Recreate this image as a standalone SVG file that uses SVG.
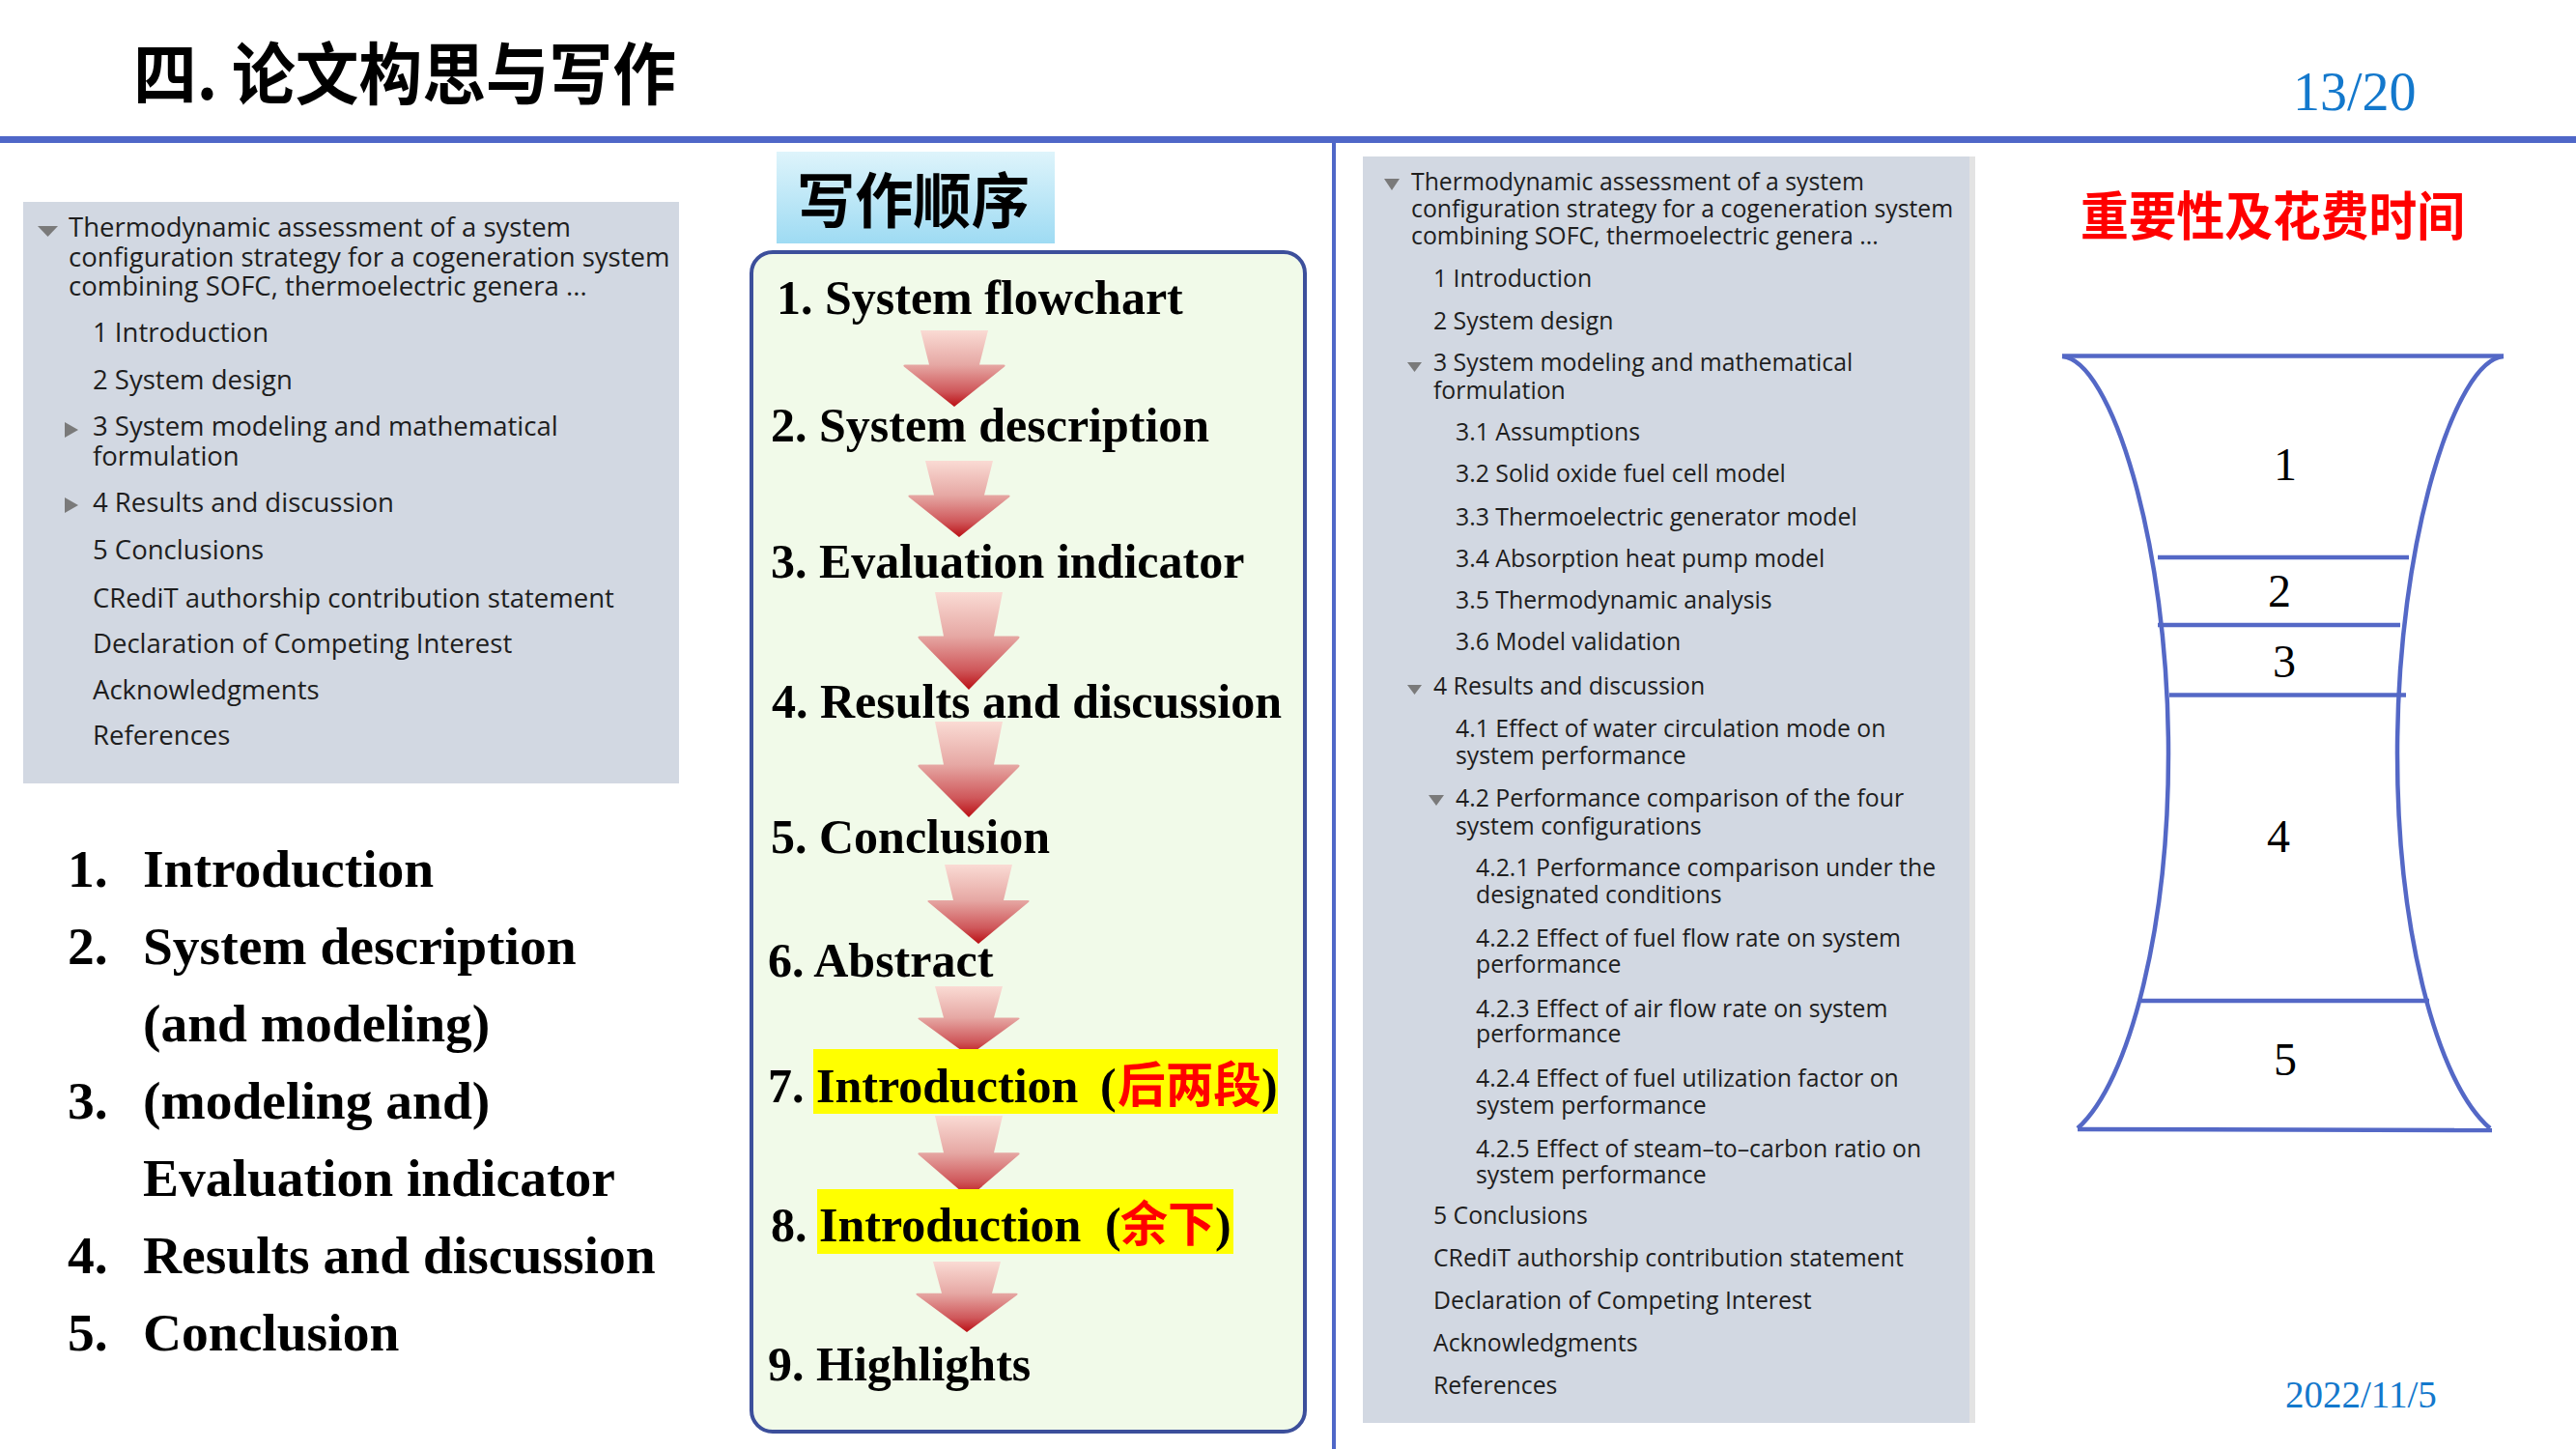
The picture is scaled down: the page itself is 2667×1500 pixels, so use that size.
<svg xmlns="http://www.w3.org/2000/svg" width="2667" height="1500" viewBox="0 0 2667 1500">
  <style>
    .cjk { font-family: "Noto Sans CJK SC", "Noto Sans", sans-serif; font-weight: 700; }
    .step { font-family: "Liberation Serif", "Times New Roman", serif; font-weight: 700; font-size: 50px; fill: #000; }
    .list { font-family: "Liberation Serif", "Times New Roman", serif; font-weight: 700; font-size: 55.5px; fill: #000; }
    .toc { font-family: "Open Sans", "DejaVu Sans", sans-serif; fill: #1e1e1e; }
    .tocL { font-size: 27.5px; }
    .tocR { font-size: 24.8px; }
    .tri { fill: #7a7a7a; }
    .rule { stroke: #4f67c8; fill: none; }
    .glass { stroke: #5468c6; fill: none; stroke-width: 4.5; stroke-linecap: butt; }
    .num { font-family: "Liberation Serif", "Times New Roman", serif; font-size: 48px; fill: #000; text-anchor: middle; }
    .meta { font-family: "Liberation Serif", "Times New Roman", serif; fill: #1378cc; }
    .hl { fill: #ffff00; }
    .red { fill: #ff0000; }
  </style>
  <defs>
    <linearGradient id="arrowFill" x1="0" y1="0" x2="0" y2="1">
      <stop offset="0" stop-color="#fadbd4"/>
      <stop offset="0.45" stop-color="#e6a8a4"/>
      <stop offset="0.8" stop-color="#cf575a"/>
      <stop offset="1" stop-color="#ba0f14"/>
    </linearGradient>
    <linearGradient id="headFill" x1="0" y1="0" x2="0" y2="1">
      <stop offset="0" stop-color="#def4fb"/>
      <stop offset="1" stop-color="#9edbf3"/>
    </linearGradient>
    <!-- block arrow, 106 wide and 100 tall, tip at (0,100) -->
    <path id="downArrow" d="M -35 0 L 35 0 L 26 45 L 51 45 Q 54 45.5 51.5 48 L 0 100 L -51.5 48 Q -54 45.5 -51 45 L -26 45 Z" fill="url(#arrowFill)"/>
  </defs>

  <rect x="0" y="0" width="2667" height="1500" fill="#ffffff"/>

  <!-- header -->
  <g id="header">
    <text class="cjk" x="138" y="103" font-size="70" textLength="562" lengthAdjust="spacingAndGlyphs" fill="#000">四. 论文构思与写作</text>
    <text class="meta" x="2374" y="114" font-size="56">13/20</text>
    <line class="rule" x1="0" y1="144.5" x2="2667" y2="144.5" stroke-width="7"/>
    <line class="rule" x1="1381" y1="148" x2="1381" y2="1500" stroke-width="4"/>
  </g>

  <!-- left: collapsed outline -->
  <g id="outline-short">
    <rect x="24" y="209" width="679" height="602" fill="#d2d8e2"/>
    <polygon class="tri" points="39,234 60,234 49.5,245"/>
    <polygon class="tri" points="67,437 67,453 81,445"/>
    <polygon class="tri" points="67,515 67,531 81,523"/>
    <g class="toc tocL">
      <text x="71" y="245">Thermodynamic assessment of a system</text>
      <text x="71" y="276">configuration strategy for a cogeneration system</text>
      <text x="71" y="306">combining SOFC, thermoelectric genera ...</text>
      <text x="96" y="354">1 Introduction</text>
      <text x="96" y="403">2 System design</text>
      <text x="96" y="451">3 System modeling and mathematical</text>
      <text x="96" y="482">formulation</text>
      <text x="96" y="530">4 Results and discussion</text>
      <text x="96" y="579">5 Conclusions</text>
      <text x="96" y="629">CRediT authorship contribution statement</text>
      <text x="96" y="676">Declaration of Competing Interest</text>
      <text x="96" y="724">Acknowledgments</text>
      <text x="96" y="771">References</text>
    </g>
  </g>

  <!-- left: paper structure list -->
  <g id="structure-list" class="list">
    <text x="70" y="918">1.</text><text x="148" y="918">Introduction</text>
    <text x="70" y="998">2.</text><text x="148" y="998">System description</text>
    <text x="148" y="1078">(and modeling)</text>
    <text x="70" y="1158">3.</text><text x="148" y="1158">(modeling and)</text>
    <text x="148" y="1238">Evaluation indicator</text>
    <text x="70" y="1318">4.</text><text x="148" y="1318">Results and discussion</text>
    <text x="70" y="1398">5.</text><text x="148" y="1398">Conclusion</text>
  </g>

  <!-- middle: writing order -->
  <g id="order-heading">
    <rect x="804" y="157" width="288" height="95" fill="url(#headFill)"/>
    <text class="cjk" x="825" y="231" font-size="62" textLength="241" lengthAdjust="spacingAndGlyphs" fill="#000">写作顺序</text>
  </g>
  <g id="order-frame">
    <rect x="778" y="261" width="573" height="1221" rx="22" ry="22" fill="#f1fae9" stroke="#3c4f9b" stroke-width="4"/>
  </g>

  <g id="connectors">
    <use href="#downArrow" transform="translate(988,342) scale(1,0.79)"/>
    <use href="#downArrow" transform="translate(993,477) scale(1,0.79)"/>
    <use href="#downArrow" transform="translate(1003,613) scale(1,1.01)"/>
    <use href="#downArrow" transform="translate(1003,747) scale(1,0.99)"/>
    <use href="#downArrow" transform="translate(1013,895) scale(1,0.82)"/>
    <use href="#downArrow" transform="translate(1003,1021) scale(1,0.72)"/>
    <use href="#downArrow" transform="translate(1003,1155) scale(1,0.85)"/>
    <use href="#downArrow" transform="translate(1001,1306) scale(1,0.73)"/>
  </g>

  <g id="step-1" class="step"><text x="804" y="325">1. System flowchart</text></g>
  <g id="step-2" class="step"><text x="798" y="457">2. System description</text></g>
  <g id="step-3" class="step"><text x="798" y="598">3. Evaluation indicator</text></g>
  <g id="step-4" class="step"><text x="799" y="743">4. Results and discussion</text></g>
  <g id="step-5" class="step"><text x="798" y="883">5. Conclusion</text></g>
  <g id="step-6" class="step"><text x="795" y="1011">6. Abstract</text></g>
  <g id="step-7">
    <rect class="hl" x="842" y="1086" width="481" height="67"/>
    <text class="step" x="795" y="1141">7.</text>
    <text class="step" x="845" y="1141">Introduction</text>
    <text class="step" x="1139" y="1141">(</text>
    <text class="cjk red" x="1157" y="1141" font-size="50" textLength="149" lengthAdjust="spacingAndGlyphs">后两段</text>
    <text class="step" x="1306" y="1141">)</text>
  </g>
  <g id="step-8">
    <rect class="hl" x="846" y="1231" width="431" height="67"/>
    <text class="step" x="798" y="1285">8.</text>
    <text class="step" x="848" y="1285">Introduction</text>
    <text class="step" x="1144" y="1285">(</text>
    <text class="cjk red" x="1160" y="1285" font-size="50" textLength="98" lengthAdjust="spacingAndGlyphs">余下</text>
    <text class="step" x="1258" y="1285">)</text>
  </g>
  <g id="step-9" class="step"><text x="795" y="1429">9. Highlights</text></g>

  <!-- right: expanded outline -->
  <g id="outline-full">
    <rect x="1411" y="162" width="628" height="1311" fill="#d2d8e2"/>
    <rect x="2039" y="162" width="6" height="1311" fill="#e3e3e3"/>
    <polygon class="tri" points="1433,185 1449,185 1441,197"/>
    <polygon class="tri" points="1457,375 1472,375 1464.5,385"/>
    <polygon class="tri" points="1457,709 1472,709 1464.5,719"/>
    <polygon class="tri" points="1479,823 1495,823 1487,834"/>
    <g class="toc tocR">
      <text x="1461" y="197">Thermodynamic assessment of a system</text>
      <text x="1461" y="225">configuration strategy for a cogeneration system</text>
      <text x="1461" y="253">combining SOFC, thermoelectric genera ...</text>
      <text x="1484" y="297">1 Introduction</text>
      <text x="1484" y="341">2 System design</text>
      <text x="1484" y="384">3 System modeling and mathematical</text>
      <text x="1484" y="413">formulation</text>
      <text x="1507" y="456">3.1 Assumptions</text>
      <text x="1507" y="499">3.2 Solid oxide fuel cell model</text>
      <text x="1507" y="544">3.3 Thermoelectric generator model</text>
      <text x="1507" y="587">3.4 Absorption heat pump model</text>
      <text x="1507" y="630">3.5 Thermodynamic analysis</text>
      <text x="1507" y="673">3.6 Model validation</text>
      <text x="1484" y="719">4 Results and discussion</text>
      <text x="1507" y="763">4.1 Effect of water circulation mode on</text>
      <text x="1507" y="791">system performance</text>
      <text x="1507" y="835">4.2 Performance comparison of the four</text>
      <text x="1507" y="864">system configurations</text>
      <text x="1528" y="907">4.2.1 Performance comparison under the</text>
      <text x="1528" y="935">designated conditions</text>
      <text x="1528" y="980">4.2.2 Effect of fuel flow rate on system</text>
      <text x="1528" y="1007">performance</text>
      <text x="1528" y="1053">4.2.3 Effect of air flow rate on system</text>
      <text x="1528" y="1079">performance</text>
      <text x="1528" y="1125">4.2.4 Effect of fuel utilization factor on</text>
      <text x="1528" y="1153">system performance</text>
      <text x="1528" y="1198">4.2.5 Effect of steam–to–carbon ratio on</text>
      <text x="1528" y="1225">system performance</text>
      <text x="1484" y="1267">5 Conclusions</text>
      <text x="1484" y="1311">CRediT authorship contribution statement</text>
      <text x="1484" y="1355">Declaration of Competing Interest</text>
      <text x="1484" y="1399">Acknowledgments</text>
      <text x="1484" y="1443">References</text>
    </g>
  </g>

  <!-- right: importance / time hourglass -->
  <g id="hourglass-title">
    <text class="cjk red" x="2154" y="244" font-size="54" textLength="398" lengthAdjust="spacingAndGlyphs">重要性及花费时间</text>
  </g>
  <g id="hourglass">
    <path class="glass" d="M 2135 369 C 2185 372 2245 560 2245 780 C 2245 960 2205 1120 2151 1168"/>
    <path class="glass" d="M 2592 369 C 2542 372 2482 560 2482 780 C 2482 960 2522 1120 2578 1168"/>
    <line class="glass" x1="2135" y1="368.5" x2="2592" y2="368.5"/>
    <line class="glass" x1="2234" y1="577" x2="2494" y2="577"/>
    <line class="glass" x1="2234" y1="647" x2="2485" y2="647"/>
    <line class="glass" x1="2246" y1="719.5" x2="2491" y2="719.5"/>
    <line class="glass" x1="2217" y1="1036" x2="2515" y2="1036"/>
    <line class="glass" x1="2151" y1="1169" x2="2580" y2="1170"/>
  </g>
  <g id="band-1"><text class="num" x="2366" y="497">1</text></g>
  <g id="band-2"><text class="num" x="2360" y="628">2</text></g>
  <g id="band-3"><text class="num" x="2365" y="701">3</text></g>
  <g id="band-4"><text class="num" x="2359" y="882">4</text></g>
  <g id="band-5"><text class="num" x="2366" y="1113">5</text></g>

  <g id="footer">
    <text class="meta" x="2366" y="1457" font-size="39">2022/11/5</text>
  </g>
</svg>
